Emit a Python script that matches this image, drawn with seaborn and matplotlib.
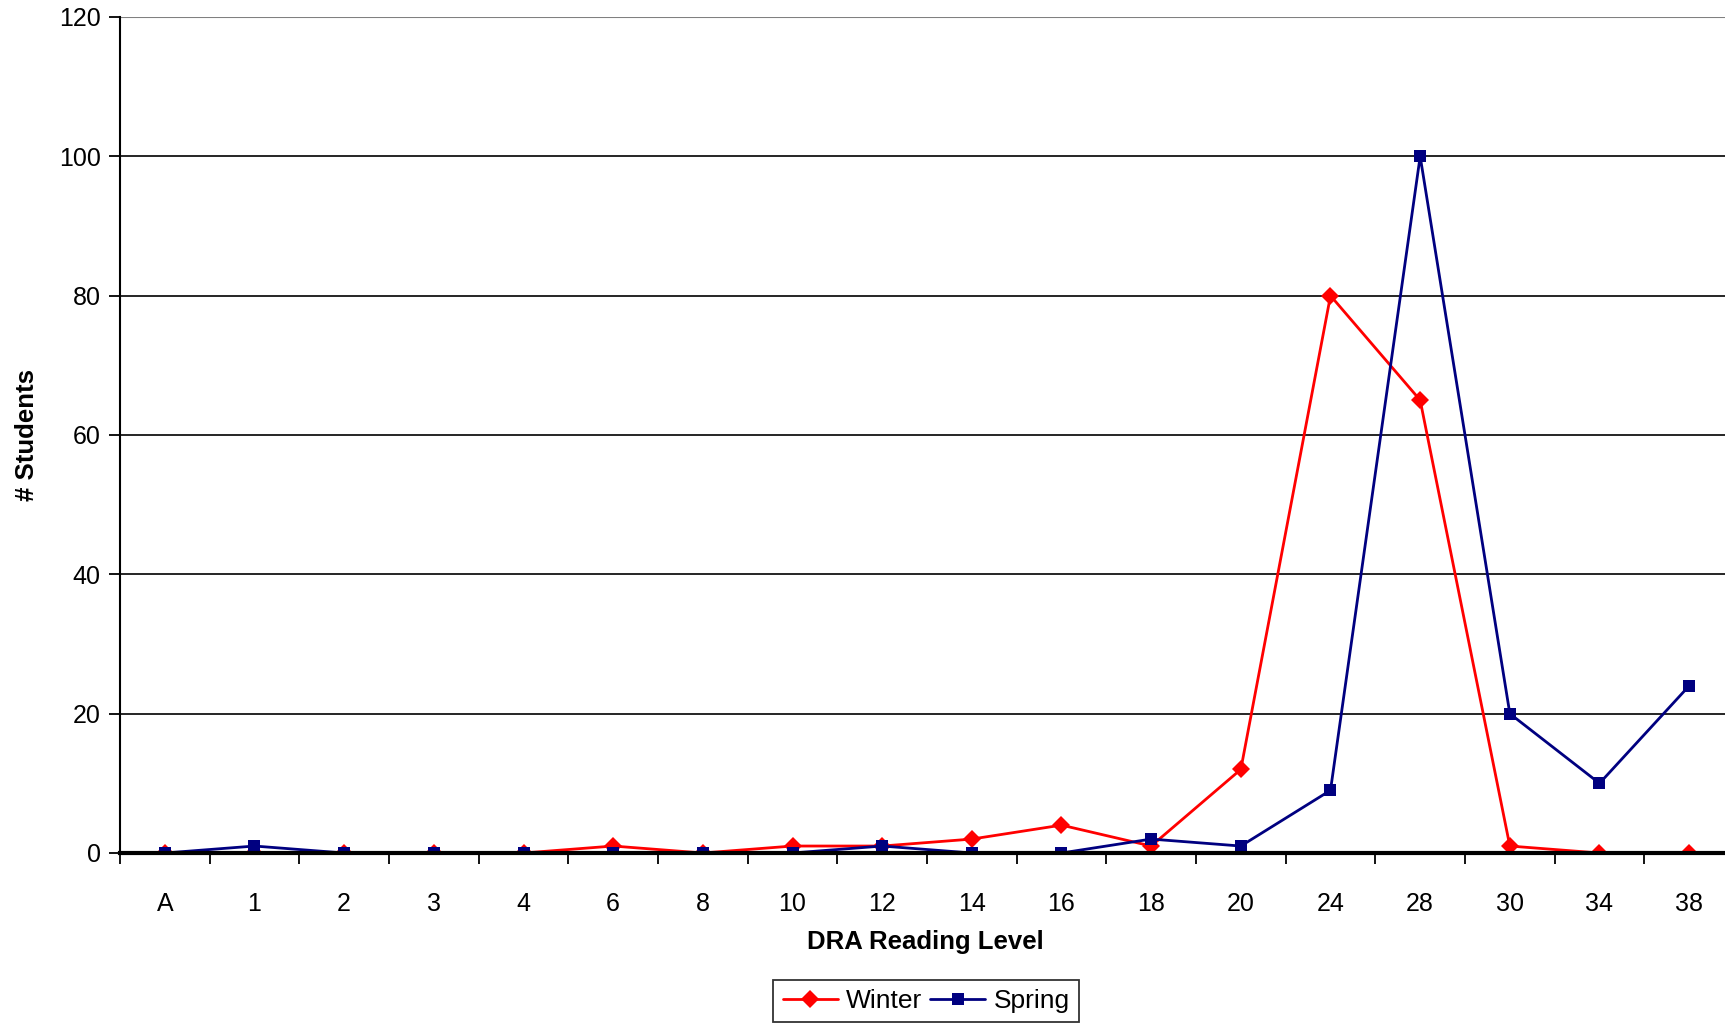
import matplotlib
matplotlib.use("Agg")
import matplotlib.pyplot as plt
import pandas as pd
import seaborn as sns
from matplotlib.ticker import MultipleLocator, FixedLocator

# Data
levels = ['A', '1', '2', '3', '4', '6', '8', '10', '12', '14', '16', '18',
          '20', '24', '28', '30', '34', '38']
winter = [0, 0, 0, 0, 0, 1, 0, 1, 1, 2, 4, 1, 12, 80, 65, 1, 0, 0]
spring = [0, 1, 0, 0, 0, 0, 0, 0, 1, 0, 0, 2, 1, 9, 100, 20, 10, 24]

df = pd.DataFrame({
    'level': levels * 2,
    'students': winter + spring,
    'season': ['Winter'] * len(levels) + ['Spring'] * len(levels),
})

sns.set_style("white")
plt.rcParams['font.family'] = ['Liberation Sans', 'DejaVu Sans']
plt.rcParams['text.color'] = 'black'
plt.rcParams['axes.labelcolor'] = 'black'
plt.rcParams['xtick.color'] = 'black'
plt.rcParams['ytick.color'] = 'black'

fig = plt.figure(figsize=(17.25, 10.24), dpi=100)
ax = fig.add_axes([120 / 1725, 1 - 853 / 1024, (1734 - 120) / 1725, (853 - 17) / 1024])

sns.lineplot(data=df, x='level', y='students', hue='season', style='season',
             palette={'Winter': '#ff0000', 'Spring': '#000080'},
             markers={'Winter': 'D', 'Spring': 's'}, dashes=False,
             markersize=9, markeredgewidth=0, linewidth=2, sort=False,
             ax=ax, legend=False)

ax.set_ylim(0, 120)
ax.set_xlim(-0.5, len(levels) - 0.5)
ax.yaxis.set_major_locator(MultipleLocator(20))
for y in range(20, 120, 20):
    ax.axhline(y, color='black', linewidth=1.2, zorder=0)
ax.axhline(120, color='#808080', linewidth=1.5, zorder=0)

ax.set_xticks(range(len(levels)))
ax.set_xticklabels(levels)
ax.xaxis.set_minor_locator(FixedLocator([i + 0.5 for i in range(-1, len(levels))]))
ax.tick_params(axis='x', which='major', length=0, pad=28, labelsize=18, bottom=True)
ax.tick_params(axis='x', which='minor', length=8, width=1.3, direction='out', bottom=True)
ax.tick_params(axis='y', which='major', length=8, width=1.3,
               direction='out', labelsize=18, left=True, pad=6)

for side in ['top', 'right']:
    ax.spines[side].set_visible(False)
ax.spines['left'].set_color('black')
ax.spines['left'].set_linewidth(1.5)
ax.spines['bottom'].set_color('black')
ax.spines['bottom'].set_linewidth(3)

ax.set_xlabel('DRA Reading Level', fontsize=18.5, fontweight='bold')
ax.set_ylabel('# Students', fontsize=18.5, fontweight='bold')
ax.xaxis.set_label_coords((925 - 120) / (1734 - 120), -(930 - 853) / (853 - 17))
ax.yaxis.set_label_coords(-(120 - 39) / (1734 - 120), (853 - 435) / (853 - 17))

handles = [
    plt.Line2D([], [], color='#ff0000', marker='D', markersize=9, markeredgewidth=0, linewidth=2),
    plt.Line2D([], [], color='#000080', marker='s', markersize=9, markeredgewidth=0, linewidth=2),
]
leg = fig.legend(handles, ['Winter', 'Spring'], loc='center', ncol=2,
                 bbox_to_anchor=(926 / 1725, 1 - 1001 / 1024), fontsize=19,
                 frameon=True, fancybox=False, edgecolor='black',
                 handlelength=2.1, columnspacing=0.3, handletextpad=0.3,
                 borderpad=0.35, borderaxespad=0)
leg.get_frame().set_linewidth(1.3)

fig.savefig('out.png', dpi=100)
